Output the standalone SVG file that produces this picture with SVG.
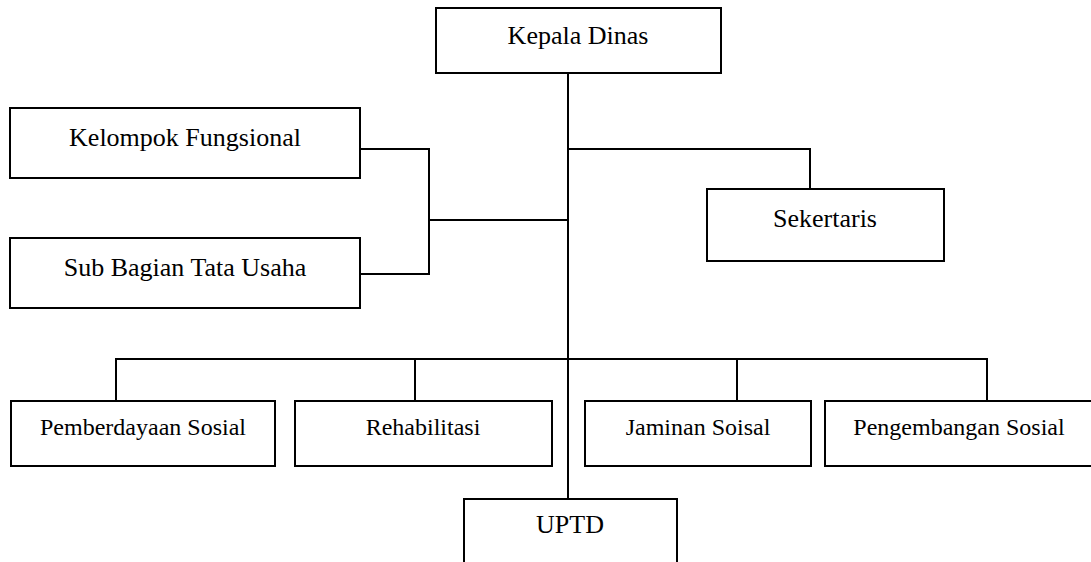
<svg xmlns="http://www.w3.org/2000/svg" width="1091" height="562" viewBox="0 0 1091 562">
  <style>
    .box { fill: #ffffff; stroke: #000000; stroke-width: 2; }
    .link { fill: none; stroke: #000000; stroke-width: 2; }
    text { font-family: Liberation Serif, Times New Roman, Times, serif; fill: #000000; text-anchor: middle; }
    .big { font-size: 26px; }
    .small { font-size: 24px; }
  </style>
  <rect width="1091" height="562" fill="#ffffff"/>

  <!-- connectors -->
  <g id="connectors">
    <!-- main trunk from Kepala Dinas down to UPTD -->
    <path class="link" d="M568 73 V499"/>
    <!-- branch to Sekertaris -->
    <path class="link" d="M568 149 H810 V189"/>
    <!-- staff branch: Kelompok Fungsional and Sub Bagian Tata Usaha -->
    <path class="link" d="M360 149 H429 V274 H360"/>
    <path class="link" d="M429 220 H568"/>
    <!-- field bar -->
    <path class="link" d="M116 401 V359 H987 V401"/>
    <path class="link" d="M415 359 V401"/>
    <path class="link" d="M737 359 V401"/>
  </g>

  <g id="kepala-dinas">
    <rect class="box" x="436" y="8" width="285" height="65"/>
    <text class="big" x="578" y="44">Kepala Dinas</text>
  </g>

  <g id="kelompok-fungsional">
    <rect class="box" x="10" y="108" width="350" height="70"/>
    <text class="big" x="185" y="146">Kelompok Fungsional</text>
  </g>

  <g id="sub-bagian-tata-usaha">
    <rect class="box" x="10" y="238" width="350" height="70"/>
    <text class="big" x="185" y="276">Sub Bagian Tata Usaha</text>
  </g>

  <g id="sekertaris">
    <rect class="box" x="707" y="189" width="237" height="72"/>
    <text class="big" x="825" y="227">Sekertaris</text>
  </g>

  <g id="pemberdayaan-sosial">
    <rect class="box" x="11" y="401" width="264" height="65"/>
    <text class="small" x="143" y="435">Pemberdayaan Sosial</text>
  </g>

  <g id="rehabilitasi">
    <rect class="box" x="295" y="401" width="257" height="65"/>
    <text class="small" x="423" y="435">Rehabilitasi</text>
  </g>

  <g id="jaminan-soisal">
    <rect class="box" x="585" y="401" width="226" height="65"/>
    <text class="small" x="698" y="435">Jaminan Soisal</text>
  </g>

  <g id="pengembangan-sosial">
    <rect class="box" x="825" y="401" width="268" height="65"/>
    <text class="small" x="959" y="435">Pengembangan Sosial</text>
  </g>

  <g id="uptd">
    <rect class="box" x="464" y="499" width="213" height="80"/>
    <text class="big" x="570" y="533">UPTD</text>
  </g>
</svg>
